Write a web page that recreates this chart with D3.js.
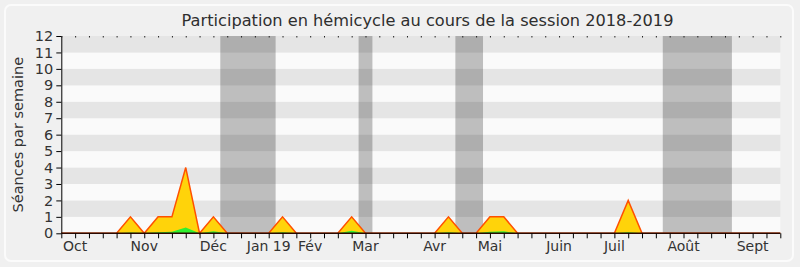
<!DOCTYPE html>
<html>
<head>
<meta charset="utf-8">
<script src="https://cdn.jsdelivr.net/npm/d3@7"></script>
<style>
  html, body { margin: 0; padding: 0; background: #f0f0f0; }
  svg { display: block; font-family: "DejaVu Sans", Verdana, sans-serif; }
</style>
</head>
<body>
<svg id="chart" width="800" height="267"></svg>
<script>
// Weekly attendance, session 2018-2019 (index = week number from the start of the axis)
const presence = [
  0, 0, 0, 0, 0, 1, 0, 1, 1, 4, 0, 1, 0, 0, 0, 0, 1, 0, 0, 0,
  0, 1, 0, 0, 0, 0, 0, 0, 1, 0, 0, 1, 1, 0, 0, 0, 0, 0, 0, 0,
  0, 2, 0, 0, 0, 0, 0, 0, 0, 0, 0, 0, 0
];
const interventions = [
  0, 0, 0, 0, 0, 0.05, 0.02, 0.06, 0.1, 0.35, 0, 0.12, 0, 0, 0, 0, 0.06, 0, 0, 0,
  0, 0.15, 0, 0, 0, 0, 0, 0, 0.06, 0, 0, 0.1, 0.12, 0, 0, 0, 0, 0, 0, 0,
  0, 0.07, 0, 0, 0, 0, 0, 0, 0, 0, 0, 0, 0
];
// Parliamentary breaks, in weeks
const vacationStart = [11.5, 21.5, 28.5, 43.5];
const vacationEnd   = [15.5, 22.5, 30.5, 48.5];
// Month labels and the week they sit on
const monthLabels = ["Oct", "Nov", "Déc", "Jan 19", "Fév", "Mar", "Avr", "Mai", "Juin", "Juil", "Août", "Sept"];
const monthWeeks  = [1, 6, 11, 15, 18, 22, 27, 31, 36, 40, 45, 50];
const yTicks = [0, 1, 2, 3, 4, 5, 6, 7, 8, 9, 10, 11, 12];

const svg = d3.select("#chart");
const plotLeft = 61.3, plotRight = 780.3, plotTop = 36, plotBottom = 233.3;

const x = d3.scaleLinear().domain([0, 52]).range([plotLeft, plotRight]);
const y = d3.scaleLinear().domain([0, 12]).range([plotBottom, plotTop]);

// Rounded frame
svg.append("rect")
  .attr("x", 5).attr("y", 5).attr("width", 788).attr("height", 256)
  .attr("rx", 6).attr("ry", 6)
  .attr("fill", "#f0f0f0").attr("stroke", "#fbfbfb").attr("stroke-width", 2);

// Title
svg.append("text")
  .attr("x", 427.5).attr("y", 26)
  .attr("text-anchor", "middle")
  .attr("font-size", 16.2).attr("fill", "#2e2e2e")
  .text("Participation en hémicycle au cours de la session 2018-2019");

// Horizontal stripes, one per unit
const plot = svg.append("g");
plot.selectAll("rect.stripe")
  .data(yTicks.slice(0, -1))
  .join("rect")
  .attr("class", "stripe")
  .attr("x", plotLeft).attr("width", plotRight - plotLeft)
  .attr("y", d => y(d + 1)).attr("height", d => y(d) - y(d + 1))
  .attr("fill", d => d % 2 === 1 ? "#e5e5e5" : "#fafafa");

// Breaks
plot.selectAll("rect.vac")
  .data(vacationStart.map((s, i) => [s, vacationEnd[i]]))
  .join("rect")
  .attr("class", "vac")
  .attr("x", d => x(d[0])).attr("width", d => x(d[1]) - x(d[0]))
  .attr("y", plotTop).attr("height", plotBottom - plotTop)
  .attr("fill", "#000").attr("fill-opacity", 0.24);

// Presence area and outline
const area = d3.area().x((d, i) => x(i)).y0(y(0)).y1(d => y(d));
const line = d3.line().x((d, i) => x(i)).y(d => y(d));

plot.append("path").datum(presence)
  .attr("d", area).attr("fill", "#ffd30a");
plot.append("path").datum(interventions)
  .attr("d", area).attr("fill", "#2ff02f");
plot.append("path").datum(presence)
  .attr("d", line).attr("fill", "none")
  .attr("stroke", "#ff5000").attr("stroke-width", 1.5).attr("stroke-linejoin", "miter");

// Axes
const textColor = "#333";
const yAxis = svg.append("g")
  .attr("transform", `translate(${plotLeft},0)`)
  .call(d3.axisLeft(y).tickValues(yTicks).tickSize(5).tickPadding(3));
yAxis.select(".domain").attr("d", `M0.5,${plotTop}V${plotBottom}`).attr("stroke", "#000");
yAxis.selectAll("text").attr("font-size", 14.5).attr("fill", textColor).attr("font-family", "DejaVu Sans");

const weekTicks = presence.map((d, i) => i);
const xAxis = svg.append("g")
  .attr("transform", `translate(0,${plotBottom})`)
  .call(d3.axisBottom(x).tickValues(weekTicks).tickSize(5).tickFormat(""));
xAxis.select(".domain").attr("d", `M${plotLeft},0H${plotRight}`)
  .attr("stroke", "#2a0800").attr("stroke-width", 1.6);

const topTicks = svg.append("g")
  .attr("transform", `translate(0,${plotTop})`)
  .call(d3.axisBottom(x).tickValues(weekTicks).tickSize(1.5).tickFormat(""));
topTicks.select(".domain").remove();
topTicks.selectAll("line").attr("stroke", "#222");

svg.append("g").selectAll("text")
  .data(monthLabels)
  .join("text")
  .attr("x", (d, i) => x(monthWeeks[i]))
  .attr("y", 251)
  .attr("text-anchor", "middle")
  .attr("font-size", 14).attr("fill", textColor)
  .text(d => d);

// Y axis title
svg.append("text")
  .attr("transform", `translate(23,${(plotTop + plotBottom) / 2}) rotate(-90)`)
  .attr("text-anchor", "middle")
  .attr("font-size", 14.5).attr("fill", textColor)
  .text("Séances par semaine");
</script>
</body>
</html>
